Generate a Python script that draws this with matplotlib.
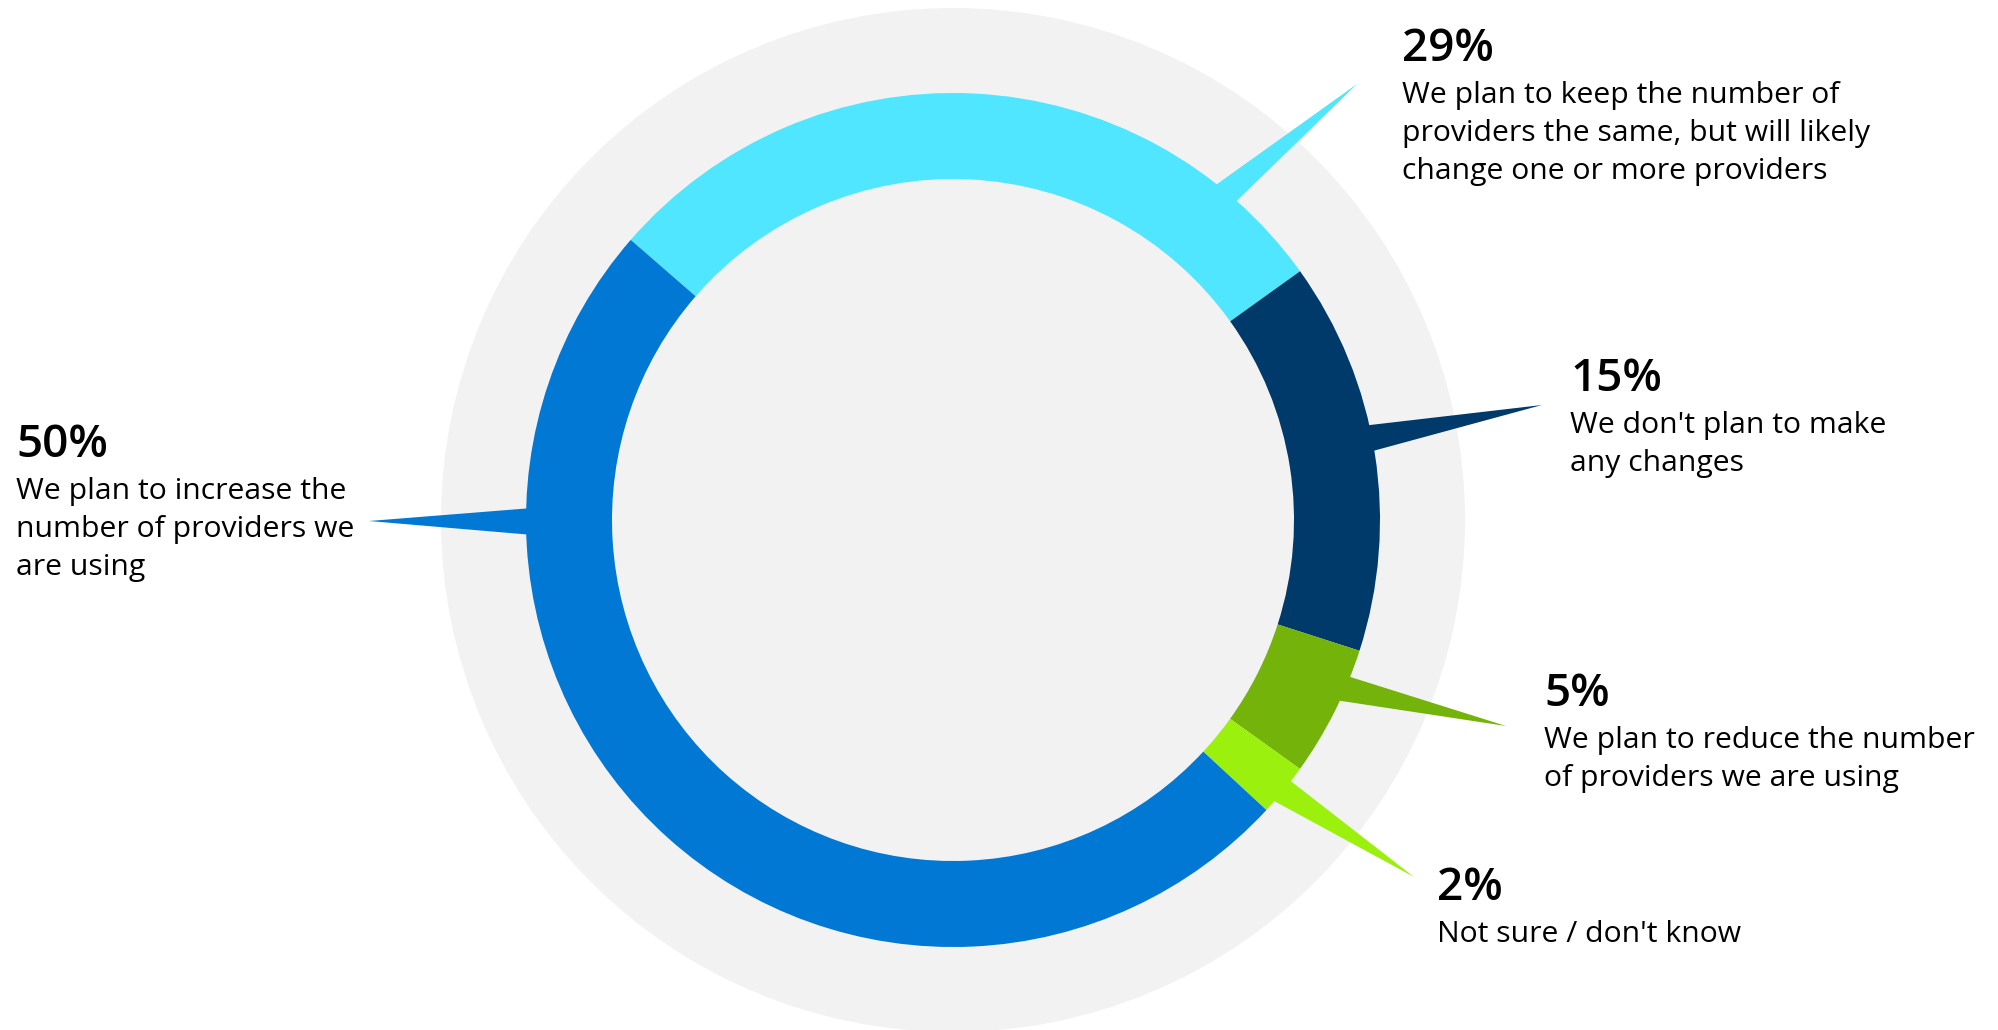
import matplotlib
matplotlib.use("Agg")
import matplotlib.pyplot as plt
import matplotlib.patches as patches
import numpy as np

# Data (clockwise from the upper-left boundary)
pcts = [29, 15, 5, 2, 50]
pct_labels = ["29%", "15%", "5%", "2%", "50%"]
descriptions = [
    "We plan to keep the number of\nproviders the same, but will likely\nchange one or more providers",
    "We don't plan to make\nany changes",
    "We plan to reduce the number\nof providers we are using",
    "Not sure / don't know",
    "We plan to increase the\nnumber of providers we\nare using",
]
colors = ["#50E6FF", "#003A6B", "#73B30A", "#9BF00D", "#0078D4"]

# Layout (pixels, y measured from the top of the picture)
W, H = 1998, 1030
CX, CY = 953, 520
R_BG = 512
R_OUT = 427
RING_W = 86
START = 139

callout_angle = [50.2, 11.1, -23.4, -39.5, 180.2]
callout_tip = [(1357, 84), (1542, 405), (1506, 726), (1414, 877), (369, 521)]
half_base = 1.8
label_x = [1402, 1570, 1544, 1437, 16]
label_base = [61, 391, 706, 900, 457]
line_gap = 38.2
desc_gap = 42

def up(y):
    return H - y

fig = plt.figure(figsize=(W / 100, H / 100), dpi=100)
ax = fig.add_axes([0, 0, 1, 1])

# background disc
ax.add_patch(patches.Circle((CX, up(CY)), R_BG, color="#F2F2F2", zorder=0, lw=0))

ax.pie(pcts, colors=colors, startangle=START, counterclock=False,
       radius=R_OUT, center=(CX, up(CY)),
       wedgeprops=dict(width=RING_W, linewidth=0))

# callout pointers
for ang, tip, col in zip(callout_angle, callout_tip, colors):
    r = R_OUT - 4
    a1 = np.radians(ang + half_base)
    a2 = np.radians(ang - half_base)
    xs = [CX + r * np.cos(a1), tip[0], CX + r * np.cos(a2)]
    ys = [up(CY) + r * np.sin(a1), up(tip[1]), up(CY) + r * np.sin(a2)]
    ax.fill(xs, ys, color=col, lw=0, zorder=2)

# labels
for x, yb, p, d in zip(label_x, label_base, pct_labels, descriptions):
    ax.text(x, up(yb), p, fontsize=33, fontweight="semibold",
            family="Open Sans", color="black", va="baseline", ha="left")
    for i, line in enumerate(d.split("\n")):
        ax.text(x, up(yb + desc_gap + i * line_gap), line, fontsize=21.7,
                family="Open Sans", color="black", va="baseline", ha="left")

ax.set_xlim(0, W)
ax.set_ylim(0, H)
ax.set_aspect("equal")
ax.axis("off")

fig.savefig("out.png", dpi=100, facecolor="white")
